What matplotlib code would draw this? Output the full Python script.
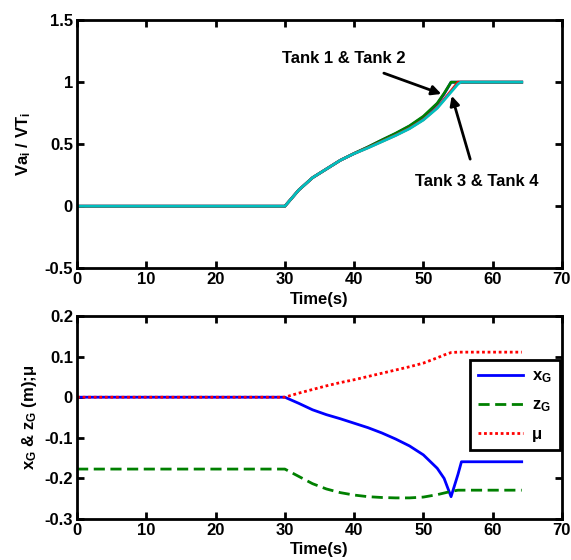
import numpy as np
import matplotlib.pyplot as plt
from matplotlib.ticker import FuncFormatter

plt.rcParams['font.family'] = ['Liberation Sans', 'DejaVu Sans']
plt.rcParams['font.weight'] = 'bold'
plt.rcParams['mathtext.fontset'] = 'custom'
plt.rcParams['mathtext.rm'] = 'Liberation Sans:bold'
plt.rcParams['mathtext.bf'] = 'Liberation Sans:bold'
plt.rcParams['mathtext.it'] = 'Liberation Sans:bold'
plt.rcParams['axes.unicode_minus'] = False

# top panel: normalised tank volume
t_tank = [0, 30, 32, 34, 36, 38, 40, 42, 44, 46, 48, 50, 52, 53, 54, 55, 55.4, 64.2]
tank1 = [0, 0, 0.13, 0.23, 0.30, 0.37, 0.425, 0.476, 0.532, 0.585, 0.645, 0.72, 0.825, 0.905, 1.0, 1.0, 1.0, 1.0]
tank2 = [0, 0, 0.13, 0.23, 0.30, 0.37, 0.426, 0.478, 0.534, 0.588, 0.648, 0.725, 0.83, 0.91, 1.0, 1.0, 1.0, 1.0]
tank3 = [0, 0, 0.13, 0.23, 0.30, 0.37, 0.424, 0.472, 0.522, 0.572, 0.628, 0.698, 0.795, 0.862, 0.93, 1.0, 1.0, 1.0]
tank4 = [0, 0, 0.13, 0.23, 0.30, 0.37, 0.424, 0.47, 0.52, 0.57, 0.625, 0.695, 0.79, 0.855, 0.92, 0.985, 1.0, 1.0]

# bottom panel: centre of gravity and friction
t_cg = [0, 30, 32, 34, 36, 38, 40, 42, 44, 46, 48, 50, 52, 53, 54, 55, 55.5, 64.2]
x_g = [0, 0, -0.015, -0.031, -0.043, -0.053, -0.064, -0.075, -0.088, -0.103, -0.12, -0.142, -0.175, -0.2, -0.245, -0.19, -0.159, -0.159]
z_g = [-0.177, -0.177, -0.195, -0.213, -0.226, -0.235, -0.241, -0.245, -0.247, -0.248, -0.248, -0.246, -0.24, -0.236, -0.232, -0.229, -0.229, -0.229]
mu = [0, 0, 0.01, 0.019, 0.028, 0.036, 0.043, 0.051, 0.059, 0.067, 0.075, 0.084, 0.097, 0.104, 0.11, 0.111, 0.111, 0.111]

fig = plt.figure(figsize=(5.71, 5.6), dpi=100)
ax1 = fig.add_axes([0.135, 0.521, 0.849, 0.443])
ax2 = fig.add_axes([0.135, 0.0732, 0.849, 0.3625])

fmt = FuncFormatter(lambda v, p: '%g' % round(v, 3))

def style(ax):
    for s in ax.spines.values():
        s.set_linewidth(2)
    ax.tick_params(direction='in', width=2, length=5, top=True, right=True,
                   labelsize=12, pad=3)
    ax.xaxis.set_major_formatter(fmt)
    ax.yaxis.set_major_formatter(fmt)
    ax.set_xlim(0, 70)
    ax.set_xticks(np.arange(0, 71, 10))
    ax.set_xlabel('Time(s)', fontsize=12, fontweight='bold', labelpad=3)

ax1.plot(t_tank, tank1, color='b', lw=2)
ax1.plot(t_tank, tank2, color=(0, 0.5, 0), lw=2)
ax1.plot(t_tank, tank3, color='r', lw=2)
ax1.plot(t_tank, tank4, color=(0, 0.75, 0.75), lw=2)
ax1.set_ylim(-0.5, 1.5)
ax1.set_yticks(np.arange(-0.5, 1.51, 0.5))
ax1.set_ylabel('Va$_\\mathbf{i}$ / VT$_\\mathbf{i}$', fontsize=12, fontweight='bold', labelpad=8)
style(ax1)

ax1.annotate('Tank 1 & Tank 2', xy=(52.6, 0.905), xytext=(38.5, 1.19),
             ha='center', va='center', fontsize=12, fontweight='bold',
             arrowprops=dict(arrowstyle='-|>', color='k', lw=2, mutation_scale=14,
                             shrinkA=9, shrinkB=0))
ax1.annotate('Tank 3 & Tank 4', xy=(54.1, 0.89), xytext=(57.7, 0.2),
             ha='center', va='center', fontsize=12, fontweight='bold',
             arrowprops=dict(arrowstyle='-|>', color='k', lw=2, mutation_scale=14,
                             shrinkA=9, shrinkB=0))

ax2.plot(t_cg, x_g, color='b', lw=2, label='x$_\\mathbf{G}$')
ax2.plot(t_cg, z_g, color=(0, 0.5, 0), lw=2, ls=(0, (4, 2)), label='z$_\\mathbf{G}$')
ax2.plot(t_cg, mu, color='r', lw=2, ls=(0, (1, 1)), label='μ')
ax2.set_ylim(-0.3, 0.2)
ax2.set_yticks(np.arange(-0.3, 0.21, 0.1))
ax2.set_ylabel('x$_\\mathbf{G}$ & z$_\\mathbf{G}$ (m);μ', fontsize=12, fontweight='bold', labelpad=4)
style(ax2)

leg = ax2.legend(loc='upper right', bbox_to_anchor=(0.996, 0.783), fontsize=12,
                 fancybox=False, framealpha=1, edgecolor='k', handlelength=2.7,
                 labelspacing=0.75, borderpad=0.5, handletextpad=0.5, borderaxespad=0)
leg.get_frame().set_linewidth(2)

fig.savefig('out.png', dpi=100)
